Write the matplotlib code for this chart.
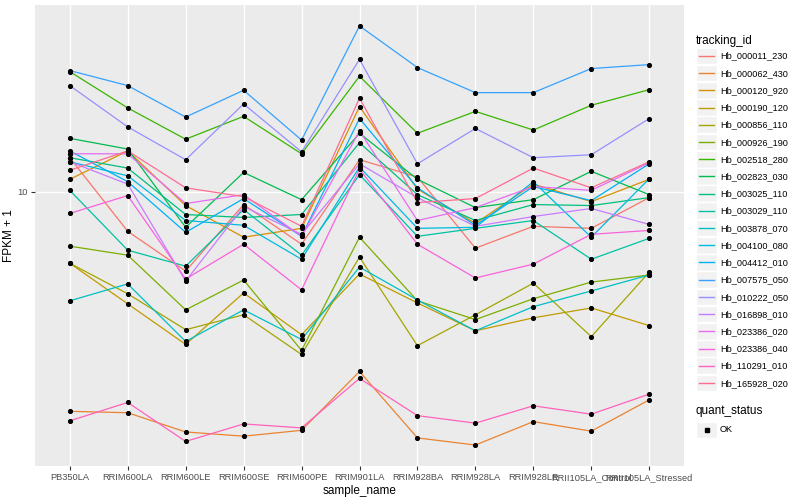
import matplotlib
matplotlib.use("Agg")
import matplotlib.pyplot as plt
from matplotlib.lines import Line2D
from matplotlib.patches import Rectangle
from matplotlib.legend_handler import HandlerBase

plt.rcParams['font.family'] = ['Liberation Sans', 'DejaVu Sans']

samples = ["PB350LA", "RRIM600LA", "RRIM600LE", "RRIM600SE", "RRIM600PE", "RRIM901LA",
           "RRIM928BA", "RRIM928LA", "RRIM928LE", "RRII105LA_Control", "RRII105LA_Stressed"]

ids = ["Hb_000011_230", "Hb_000062_430", "Hb_000120_920", "Hb_000190_120", "Hb_000856_110",
       "Hb_000926_190", "Hb_002518_280", "Hb_002823_030", "Hb_003025_110", "Hb_003029_110",
       "Hb_003878_070", "Hb_004100_080", "Hb_004412_010", "Hb_007575_050", "Hb_010222_050",
       "Hb_016898_010", "Hb_023386_020", "Hb_023386_040", "Hb_110291_010", "Hb_165928_020"]

# ggplot hue palette, 20 levels
colors = ["#F8766D", "#EA8331", "#D89000", "#C09B00", "#A3A500", "#7CAE00", "#39B600", "#00BB4E",
          "#00BF7D", "#00C1A3", "#00BFC4", "#00BAE0", "#00B0F6", "#35A2FF", "#9590FF", "#C77CFF",
          "#E76BF3", "#FA62DB", "#FF62BC", "#FF6C91"]

# FPKM + 1, one list per tracking_id, in sample order
hb_000011_230 = [13.0, 7.36, 5.41, 9.05, 6.66, 12.8, 11.2, 6.46, 7.65, 7.53, 9.55]
hb_000062_430 = [1.83, 1.81, 1.56, 1.51, 1.58, 2.49, 1.49, 1.41, 1.69, 1.57, 2.00]
hb_000120_920 = [11.0, 13.7, 8.98, 7.03, 7.53, 19.3, 10.2, 7.82, 10.6, 9.26, 11.0]
hb_000190_120 = [5.75, 4.20, 3.07, 4.57, 3.31, 5.29, 4.23, 3.41, 3.77, 4.07, 3.55]
hb_000856_110 = [5.75, 4.54, 3.44, 3.86, 2.84, 6.03, 3.04, 3.86, 4.93, 3.26, 5.37]
hb_000926_190 = [6.56, 6.12, 4.01, 5.05, 2.93, 7.03, 4.30, 3.72, 4.37, 4.97, 5.25]
hb_002518_280 = [25.3, 19.1, 15.0, 17.9, 13.4, 24.4, 15.7, 18.6, 16.1, 19.5, 22.0]
hb_002823_030 = [15.1, 13.9, 7.59, 11.6, 9.40, 15.7, 11.0, 8.84, 9.40, 11.7, 9.77]
hb_003025_110 = [13.0, 12.0, 8.38, 8.19, 8.38, 14.6, 9.77, 8.00, 9.05, 8.98, 9.55]
hb_003029_110 = [10.1, 6.36, 5.62, 8.71, 6.12, 11.4, 7.08, 7.53, 8.00, 5.93, 6.97]
hb_003878_070 = [4.30, 4.90, 3.14, 4.01, 3.19, 5.58, 4.33, 3.41, 4.11, 4.64, 5.25]
hb_004100_080 = [12.6, 11.3, 8.00, 7.71, 5.93, 12.1, 7.53, 7.59, 10.8, 7.03, 11.05]
hb_004412_010 = [13.7, 10.8, 7.30, 9.48, 7.08, 17.6, 10.3, 7.71, 10.4, 9.33, 12.4]
hb_007575_050 = [25.5, 22.7, 17.8, 21.9, 14.9, 36.0, 26.1, 21.5, 21.5, 25.9, 26.7]
hb_010222_050 = [22.7, 16.5, 12.8, 19.7, 13.6, 27.8, 12.4, 16.3, 13.0, 13.3, 17.6]
hb_016898_010 = [12.6, 10.6, 5.01, 8.91, 7.19, 12.4, 9.55, 7.65, 8.25, 8.78, 7.76]
hb_023386_020 = [13.4, 13.4, 9.12, 9.77, 7.08, 16.0, 8.00, 8.84, 10.4, 10.1, 12.5]
hb_023386_040 = [8.45, 9.70, 5.09, 6.66, 4.68, 11.9, 6.66, 5.13, 5.71, 7.19, 7.41]
hb_110291_010 = [1.70, 1.96, 1.45, 1.66, 1.61, 2.36, 1.77, 1.67, 1.91, 1.79, 2.09]
hb_165928_020 = [11.8, 13.7, 10.3, 9.62, 7.65, 20.6, 9.19, 9.48, 12.0, 10.3, 12.6]

series = [hb_000011_230, hb_000062_430, hb_000120_920, hb_000190_120, hb_000856_110,
          hb_000926_190, hb_002518_280, hb_002823_030, hb_003025_110, hb_003029_110,
          hb_003878_070, hb_004100_080, hb_004412_010, hb_007575_050, hb_010222_050,
          hb_016898_010, hb_023386_020, hb_023386_040, hb_110291_010, hb_165928_020]


class KeyHandler(HandlerBase):
    # grey ggplot-like key box with a line or a point in it
    def create_artists(self, legend, orig, xd, yd, width, height, fontsize, trans):
        bg = Rectangle((-xd, -yd), width, height, facecolor="#F2F2F2",
                       edgecolor="white", lw=1, transform=trans)
        if orig.get_linestyle() == "None":
            mk = Line2D([-xd + width / 2], [-yd + height / 2], marker="s", ms=2.6,
                        color="black", ls="None", transform=trans)
        else:
            mk = Line2D([-xd + 2, -xd + width - 2], [-yd + height / 2] * 2,
                        color=orig.get_color(), lw=1.0, transform=trans)
        return [bg, mk]


fig = plt.figure(figsize=(8, 5), dpi=100)
ax = fig.add_axes([35 / 800, 34 / 500, 649 / 800, 461 / 500])
ax.set_facecolor("#EBEBEB")

x = list(range(len(samples)))
handles = []
for vals, c in zip(series, colors):
    h, = ax.plot(x, vals, color=c, lw=0.9, zorder=2)
    handles.append(h)
for vals in series:
    ax.plot(x, vals, ls="None", marker="o", ms=2.7, color="black", zorder=3)

ax.set_yscale("log")
ax.set_xlim(-0.6, len(samples) - 0.4)
ax.margins(y=0.05)
ax.set_yticks([10])
ax.set_yticklabels(["10"])
ax.yaxis.set_minor_locator(matplotlib.ticker.NullLocator())
ax.set_xticks(x)
ax.set_xticklabels(samples)

ax.grid(True, which="major", color="white", lw=1.0)
ax.set_axisbelow(True)
for s in ax.spines.values():
    s.set_visible(False)
ax.tick_params(axis="both", colors="#333333", labelcolor="#4D4D4D", labelsize=6.7,
               length=3, width=0.8, pad=2)

ax.set_xlabel("sample_name", fontsize=8.5, labelpad=2)
ax.set_ylabel("FPKM + 1", fontsize=8.5, labelpad=2)

leg1 = fig.legend(handles, ids, title="tracking_id", loc="upper left",
                  bbox_to_anchor=(696 / 800, 1 - 35 / 500), frameon=False,
                  fontsize=6.6, title_fontsize=8.5, handlelength=2.3, handleheight=2.42,
                  labelspacing=0.06, handletextpad=0.3, borderpad=0, borderaxespad=0,
                  handler_map={Line2D: KeyHandler()})
leg1._legend_box.align = "left"

ok = Line2D([], [], ls="None", marker="s", color="black")
leg2 = fig.legend([ok], ["OK"], title="quant_status", loc="upper left",
                  bbox_to_anchor=(696 / 800, 1 - 405 / 500), frameon=False,
                  fontsize=6.6, title_fontsize=8.5, handlelength=2.3, handleheight=2.3,
                  handletextpad=0.3, borderpad=0, borderaxespad=0,
                  handler_map={Line2D: KeyHandler()})
leg2._legend_box.align = "left"

fig.savefig("out.png", dpi=100)
